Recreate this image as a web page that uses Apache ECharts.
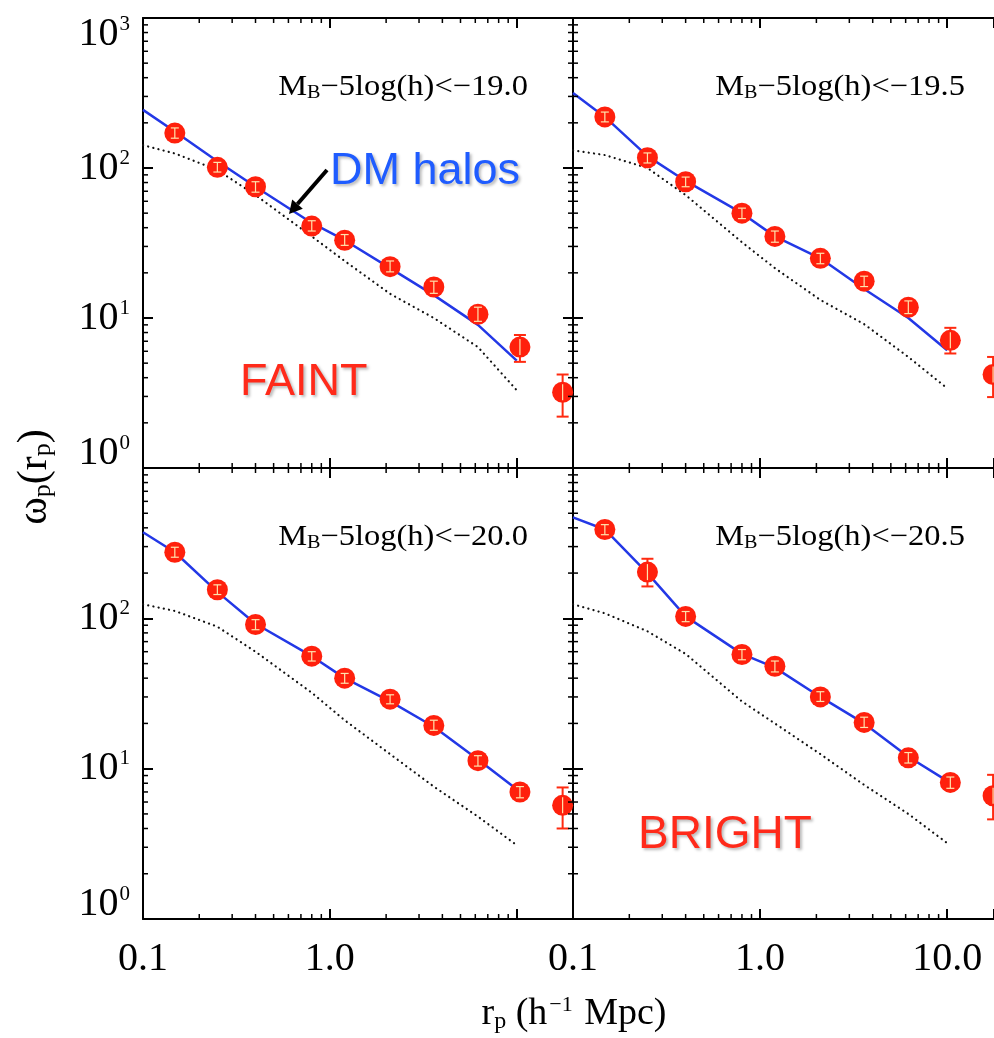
<!DOCTYPE html>
<html>
<head>
<meta charset="utf-8">
<script src="https://cdn.jsdelivr.net/npm/echarts@6/dist/echarts.min.js"></script>
<style>
  html, body { margin: 0; padding: 0; background: #fff; }
  #main { width: 994px; height: 1038px; }
</style>
</head>
<body>
<div id="main"></div>
<script>
// contenedor del grafico
var chartDom = document.getElementById('main');
var myChart = echarts.init(chartDom);
var option;

// separacion proyectada r_p (h^-1 Mpc), igual en los cuatro paneles
var rp = [0.148, 0.25, 0.40, 0.80, 1.2, 2.1, 3.6, 6.2, 10.4, 17.6];
// muestreo de las curvas del modelo
var rModel = [0.1, 0.148, 0.25, 0.4, 0.8, 1.2, 2.1, 3.6, 6.2, 10];
var magCut = ['\u221219.0', '\u221219.5', '\u221220.0', '\u221220.5'];

// M_B-5log(h) < -19.0
var wp190 = [171, 101, 75, 41, 33, 22, 16.1, 10.6, 6.4, 3.2];
var lo190 = [158, 94, 69, 38, 30.5, 20.3, 14.6, 9.5, 5.1, 2.2];
var hi190 = [185, 109, 81, 44.5, 36, 24, 17.6, 11.8, 7.7, 4.2];
var model190 = [244, 175, 111, 75, 43, 33, 21.5, 14.2, 9.0, 5.2];
var halo190 = [142, 125, 97, 66, 35, 24, 14.5, 10, 6.4, 3.3];

// M_B-5log(h) < -19.5
var wp195 = [219, 117, 81, 50, 35, 25, 17.6, 11.8, 7.1, 4.2];
var lo195 = [203, 108, 75, 46, 32, 23, 16.2, 10.7, 5.8, 2.97];
var hi195 = [236, 126, 87, 54, 38, 27, 19, 13, 8.6, 5.5];
var model195 = [316, 219, 120, 82, 50, 35, 25, 15.6, 10, 6.1];
var halo195 = [131, 122, 100, 66, 32, 21.5, 13.2, 9.1, 5.5, 3.4];

// M_B-5log(h) < -20.0
var wp200 = [275, 155, 91, 56, 40, 29, 19.4, 11.3, 7.0, 5.7];
var lo200 = [255, 144, 84, 52, 37, 27, 18, 10.4, 6.4, 4.0];
var hi200 = [297, 167, 98, 60, 43, 31, 21, 12.2, 7.6, 7.5];
var model200 = [374, 275, 150, 92, 56, 40, 28, 19, 11.5, 7.3];
var halo200 = [124, 112, 88, 60, 32, 21, 12.5, 7.6, 4.8, 3.1];

// M_B-5log(h) < -20.5
var wp205 = [390, 203, 103, 57.5, 48, 30, 20.3, 11.8, 8.1, 6.6];
var lo205 = [360, 163, 95, 53, 44, 28, 18.8, 10.9, 7.4, 4.6];
var hi205 = [420, 249, 111, 62, 52, 32.5, 22, 12.8, 8.8, 9.1];
var model205 = [470, 390, 200, 103, 58, 47, 30, 20, 12, 8.3];
var halo205 = [124, 108, 82, 58, 28, 20, 12.5, 7.8, 5.0, 3.2];

// marcas menores de los ejes log
var xMinor = [0.2, 0.3, 0.4, 0.5, 0.6, 0.7, 0.8, 0.9, 2, 3, 4, 5, 6, 7, 8, 9];
var yMinor = [2, 3, 4, 5, 6, 7, 8, 9, 20, 30, 40, 50, 60, 70, 80, 90, 200, 300, 400, 500, 600, 700, 800, 900];

var panels = [
  { wp: wp190, lo: lo190, hi: hi190, model: model190, halo: halo190 },
  { wp: wp195, lo: lo195, hi: hi195, model: model195, halo: halo195 },
  { wp: wp200, lo: lo200, hi: hi200, model: model200, halo: halo200 },
  { wp: wp205, lo: lo205, hi: hi205, model: model205, halo: halo205 }
];

// los paneles de la derecha quedan cortados por el borde de la imagen
var grids = [
  { left: 143, top: 18, width: 430, height: 450, outerBoundsMode: 'none' },
  { left: 573, top: 18, width: 421, height: 450, outerBoundsMode: 'none' },
  { left: 143, top: 468, width: 430, height: 451, outerBoundsMode: 'none' },
  { left: 573, top: 468, width: 421, height: 451, outerBoundsMode: 'none' }
];
var xMaxLeft = 20, xMaxRight = 17.8;

var serif = 'Liberation Serif';
var sans = 'Liberation Sans';

function expOf(v) {
  return Math.round(Math.log10(v) * 100) / 100;
}

function xAxisFor(g, pos, xMax, showLabels, showTen) {
  return {
    type: 'log', logBase: 10, gridIndex: g, position: pos,
    min: 0.1, max: xMax,
    axisLine: { show: true, onZero: false, lineStyle: { color: '#000', width: 2 } },
    axisTick: { show: true, inside: true, length: 10, lineStyle: { color: '#000', width: 2 } },
    splitLine: { show: false },
    axisLabel: {
      show: showLabels, margin: 20, showMinLabel: true, showMaxLabel: true,
      fontFamily: serif, fontSize: 40, lineHeight: 40, color: '#000',
      formatter: function (v) {
        var e = expOf(v);
        if (e === -1) return '0.1';
        if (e === 0) return '1.0';
        if (e === 1 && showTen) return '10.0';
        return '';
      }
    }
  };
}

function yAxisFor(g, pos, showLine, showLabels, hideTop) {
  return {
    type: 'log', logBase: 10, gridIndex: g, position: pos,
    min: 1, max: 1000,
    axisLine: { show: showLine, onZero: false, lineStyle: { color: '#000', width: 2 } },
    axisTick: { show: showLine, inside: true, length: 10, lineStyle: { color: '#000', width: 2 } },
    splitLine: { show: false },
    axisLabel: {
      show: showLabels, margin: 13, showMinLabel: true, showMaxLabel: true,
      fontFamily: serif, fontSize: 20, lineHeight: 30, color: '#000',
      formatter: function (v) {
        var e = expOf(v);
        if (e % 1 !== 0) return '';
        if (hideTop && e === 3) return '';
        if (e === 3) return '{b3|10}{s3|3}';
        var s = '{b|10}{s|' + e + '}';
        if (e === 0) return s + '\n';
        return s;
      },
      rich: {
        b: { fontFamily: serif, fontSize: 40, lineHeight: 30, color: '#000' },
        s: { fontFamily: serif, fontSize: 21, lineHeight: 21, color: '#000', padding: [0, 0, 20, 1] },
        b3: { fontFamily: serif, fontSize: 40, lineHeight: 30, color: '#000', padding: [32, 0, 0, 0] },
        s3: { fontFamily: serif, fontSize: 21, lineHeight: 21, color: '#000', padding: [12, 0, 0, 1] }
      }
    }
  };
}

function errItem(pale) {
  return function (params, api) {
    var x = api.value(0), y = api.value(1), lo = api.value(2), hi = api.value(3);
    var c = api.coord([x, y]);
    var t = api.coord([x, hi]);
    var b = api.coord([x, lo]);
    var r = 8;
    var style = pale
      ? { stroke: '#ffe3ad', lineWidth: 1.2 }
      : { stroke: '#ff2a10', lineWidth: 2 };
    var y1 = t[1], y2 = b[1];
    if (pale) { y1 = Math.max(y1, c[1] - r); y2 = Math.min(y2, c[1] + r); }
    var w = pale ? 4 : 6;
    var ch = [{ type: 'line', shape: { x1: c[0], y1: y1, x2: c[0], y2: y2 }, style: style }];
    if (!pale || t[1] >= c[1] - r) {
      ch.push({ type: 'line', shape: { x1: c[0] - w, y1: t[1], x2: c[0] + w, y2: t[1] }, style: style });
    }
    if (!pale || b[1] <= c[1] + r) {
      ch.push({ type: 'line', shape: { x1: c[0] - w, y1: b[1], x2: c[0] + w, y2: b[1] }, style: style });
    }
    return { type: 'group', children: ch };
  };
}

function tickItem(xMax, rightEdge) {
  return function (params, api) {
    var ch = [];
    var a = api.coord([0.1, 1]);
    var z = api.coord([xMax, 1000]);
    var st = { stroke: '#000', lineWidth: 1.5 };
    xMinor.forEach(function (v) {
      var x = api.coord([v, 1])[0];
      ch.push({ type: 'line', shape: { x1: x, y1: a[1], x2: x, y2: a[1] - 5 }, style: st });
      ch.push({ type: 'line', shape: { x1: x, y1: z[1], x2: x, y2: z[1] + 5 }, style: st });
    });
    yMinor.forEach(function (v) {
      var y = api.coord([1, v])[1];
      ch.push({ type: 'line', shape: { x1: a[0], y1: y, x2: a[0] + 5, y2: y }, style: st });
      if (rightEdge) {
        ch.push({ type: 'line', shape: { x1: z[0], y1: y, x2: z[0] - 5, y2: y }, style: st });
      }
    });
    return { type: 'group', children: ch };
  };
}

var xAxes = [], yAxes = [], series = [];
panels.forEach(function (p, g) {
  var isBottom = g >= 2, isLeft = g % 2 === 0;
  var xMax = isLeft ? xMaxLeft : xMaxRight;
  xAxes.push(xAxisFor(g, 'bottom', xMax, isBottom, !isLeft));
  xAxes.push(xAxisFor(g, 'top', xMax, false, false));
  yAxes.push(yAxisFor(g, 'left', true, isLeft, g === 2));
  yAxes.push(yAxisFor(g, 'right', isLeft, false, false));

  var xi = 2 * g, yi = 2 * g;
  var pts = rp.map(function (r, i) { return [r, p.wp[i], p.lo[i], p.hi[i]]; });

  series.push({
    name: 'halos ' + g, type: 'line', xAxisIndex: xi, yAxisIndex: yi, z: 2,
    data: rModel.map(function (r, i) { return [r, p.halo[i]]; }),
    symbol: 'none',
    lineStyle: { color: '#111', width: 2.2, type: [0.1, 5.2], cap: 'round' }
  });
  series.push({
    name: 'model ' + g, type: 'line', xAxisIndex: xi, yAxisIndex: yi, z: 3,
    data: rModel.map(function (r, i) { return [r, p.model[i]]; }),
    symbol: 'none',
    lineStyle: { color: '#2338e6', width: 2.5 }
  });
  series.push({
    name: 'err ' + g, type: 'custom', xAxisIndex: xi, yAxisIndex: yi, z: 4,
    data: pts, encode: { x: 0, y: 1 }, renderItem: errItem(false), silent: true
  });
  series.push({
    name: 'wp ' + g, type: 'scatter', xAxisIndex: xi, yAxisIndex: yi, z: 5,
    data: pts.map(function (d) { return [d[0], d[1]]; }),
    symbol: 'circle', symbolSize: 21,
    itemStyle: { color: '#ff200c', opacity: 1 }
  });
  series.push({
    name: 'err in ' + g, type: 'custom', xAxisIndex: xi, yAxisIndex: yi, z: 6,
    data: pts, encode: { x: 0, y: 1 }, renderItem: errItem(true), silent: true
  });
  series.push({
    name: 'ticks ' + g, type: 'custom', xAxisIndex: xi, yAxisIndex: yi, z: 7,
    data: [[1, 10]], encode: { x: 0, y: 1 }, renderItem: tickItem(xMax, isLeft), silent: true
  });
});

function panelLabel(cx, cy, cut) {
  return {
    type: 'text', x: cx, y: cy, z: 10, scaleX: 1.12,
    style: {
      text: '{t|M}{sub|B}{t|\u22125log(h)<' + cut + '}',
      align: 'center', verticalAlign: 'middle',
      rich: {
        t: { fontFamily: serif, fontSize: 29, fill: '#000' },
        sub: { fontFamily: serif, fontSize: 18, fill: '#000', padding: [12, 0, 0, 0] }
      }
    }
  };
}

var shadow = { textShadowColor: 'rgba(0,0,0,0.28)', textShadowBlur: 3, textShadowOffsetX: 2, textShadowOffsetY: 2 };

option = {
  animation: false,
  backgroundColor: '#fff',
  grid: grids,
  xAxis: xAxes,
  yAxis: yAxes,
  series: series,
  graphic: [
    panelLabel(403, 87, magCut[0]),
    panelLabel(840, 87, magCut[1]),
    panelLabel(403, 537, magCut[2]),
    panelLabel(840, 537, magCut[3]),
    {
      type: 'text', x: 330, y: 172, z: 10,
      style: Object.assign({ text: 'DM halos', fontFamily: sans, fontSize: 45, fill: '#1f5cff',
        align: 'left', verticalAlign: 'middle' }, shadow)
    },
    {
      type: 'text', x: 240, y: 383, z: 10,
      style: Object.assign({ text: 'FAINT', fontFamily: sans, fontSize: 45, fill: '#ff2a1a',
        align: 'left', verticalAlign: 'middle' }, shadow)
    },
    {
      type: 'text', x: 638, y: 835, z: 10,
      style: Object.assign({ text: 'BRIGHT', fontFamily: sans, fontSize: 46, fill: '#ff2a1a',
        align: 'left', verticalAlign: 'middle' }, shadow)
    },
    {
      type: 'line', z: 10,
      shape: { x1: 327, y1: 170, x2: 297.5, y2: 204 },
      style: { stroke: '#000', lineWidth: 4 }
    },
    {
      type: 'polygon', z: 10,
      shape: { points: [[289, 214], [302.8, 208.7], [292.2, 199.5]] },
      style: { fill: '#000' }
    },
    {
      type: 'text', x: 35, y: 477, rotation: Math.PI / 2, z: 10,
      style: {
        text: '{w|\u03c9}{sub|p}{w|(r}{sub|p}{w|)}',
        align: 'center', verticalAlign: 'middle',
        rich: {
          w: { fontFamily: serif, fontSize: 42, fill: '#000' },
          sub: { fontFamily: serif, fontSize: 26, fill: '#000', padding: [16, 0, 0, 0] }
        }
      }
    },
    {
      type: 'text', x: 574, y: 1014, z: 10,
      style: {
        text: '{t|r}{sub|p}{t| (h}{sup|\u22121}{t| Mpc)}',
        align: 'center', verticalAlign: 'middle',
        rich: {
          t: { fontFamily: serif, fontSize: 38, fill: '#000' },
          sub: { fontFamily: serif, fontSize: 24, fill: '#000', padding: [16, 0, 0, 0] },
          sup: { fontFamily: serif, fontSize: 22, fill: '#000', padding: [0, 2, 18, 2] }
        }
      }
    }
  ]
};

option && myChart.setOption(option);
</script>
</body>
</html>
